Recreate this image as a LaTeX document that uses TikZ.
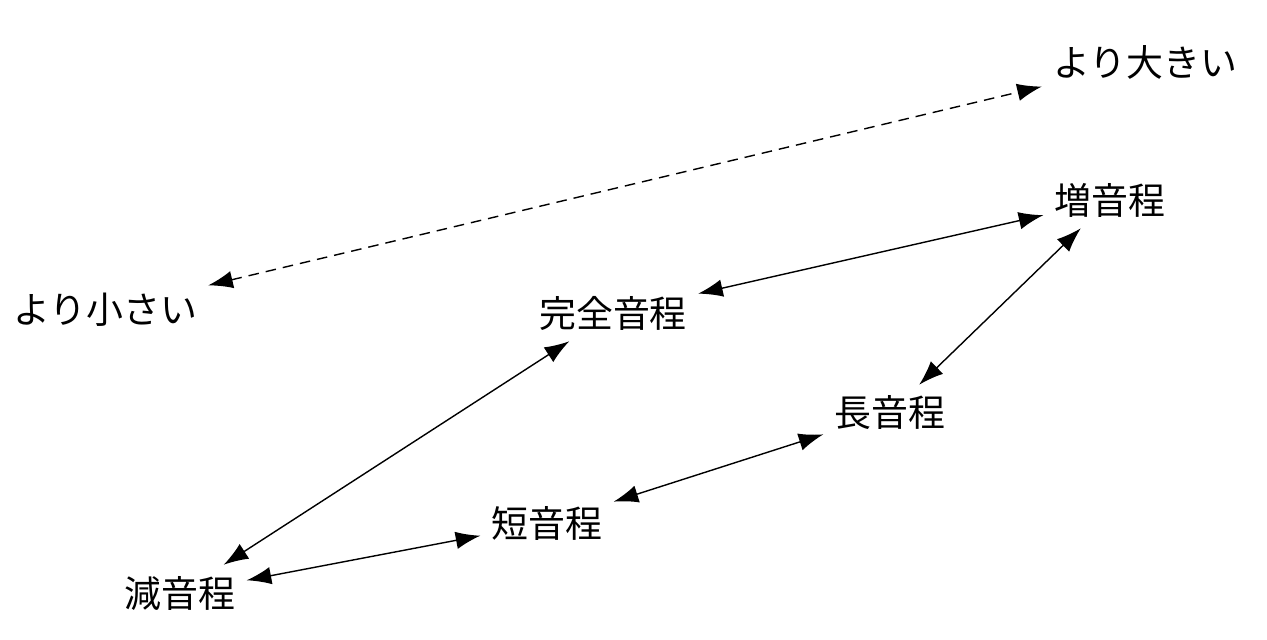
\documentclass[tikz,border=0pt]{standalone}
\usepackage{fontspec}
\newfontfamily\cjk{Noto Sans CJK JP}
\usetikzlibrary{arrows.meta}

\begin{document}
\begin{tikzpicture}[x=0.01cm, y=-0.01cm, >={Latex[length=7pt,width=5pt]},
    every node/.style={font=\cjk\fontsize{10.5}{12}\selectfont, inner sep=3pt}]
            % Frame
            \useasboundingbox (0,0) rectangle (1267,639);

            % Define the intervals
            \node (larger) at (1145,62) {より大きい};
            \node (aug) at (1110,200) {増音程};
            \node (smaller) at (105,310) {より小さい};
            \node (perf) at (613,313) {完全音程};
            \node (major) at (890,413) {長音程};
            \node (minor) at (547,523) {短音程};
            \node (dim) at (180,593) {減音程};

            % Draw the relations
            \draw[<->, thin, densely dashed] (smaller) -- (larger);
            \draw[<->] (perf) -- (aug);
            \draw[<->] (major) -- (aug);
            \draw[<->] (minor) -- (major);
            \draw[<->] (dim) -- (perf);
            \draw[<->] (dim) -- (minor);

        \end{tikzpicture}
\end{document}
